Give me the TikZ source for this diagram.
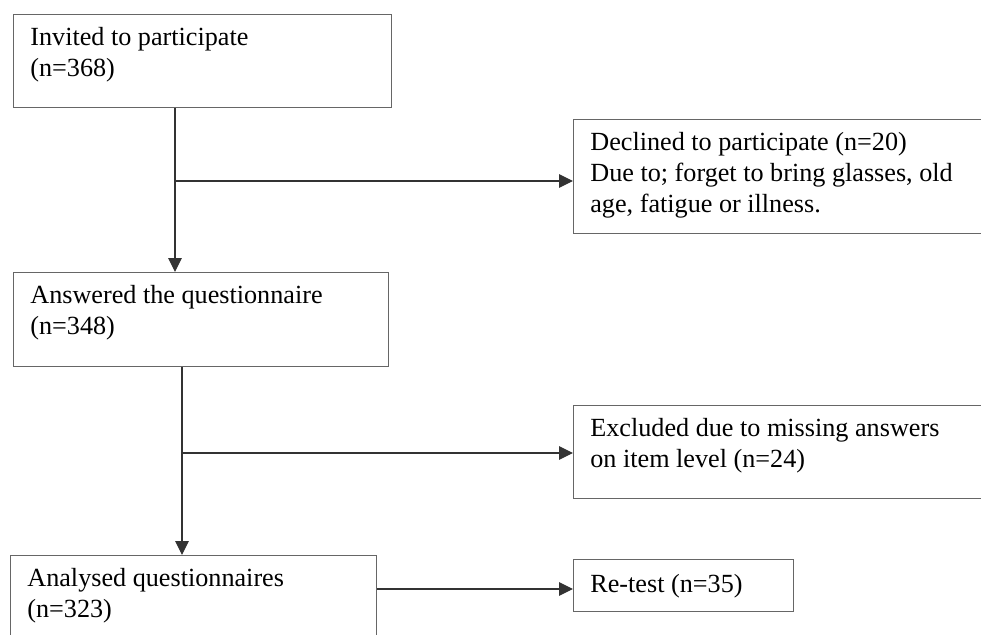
\documentclass[tikz,border=0pt]{standalone}
\usepackage{fontspec}
\setmainfont{Liberation Serif}
\usetikzlibrary{arrows.meta}
\tikzset{
  flowbox/.style={draw=black!60, line width=0.8pt, inner sep=0pt, anchor=north west},
  boxtext/.style={anchor=north west, align=left, inner xsep=0.34cm, inner ysep=0.26cm,
    font=\fontsize{14.9}{17.6}\selectfont},
  flowarrow/.style={draw=black!80, line width=0.6pt, -{Triangle[length=0.28cm,width=0.27cm]}},
  flowline/.style={draw=black!80, line width=0.6pt}
}

\begin{document}
\begin{tikzpicture}
  \useasboundingbox (0,0) rectangle (19.62,-12.7);
  \clip (0,0) rectangle (19.62,-12.7);
  \node[flowbox, minimum width=7.56cm, minimum height=1.86cm,
    label={[boxtext]north west:Invited to participate\\(n=368)}] (invited) at (0.26,-0.28) {};
  \node[flowbox, minimum width=9cm, minimum height=2.28cm,
    label={[boxtext]north west:Declined to participate (n=20)\\Due to; forget to bring glasses, old\\age, fatigue or illness.}] (declined) at (11.46,-2.38) {};
  \node[flowbox, minimum width=7.5cm, minimum height=1.88cm,
    label={[boxtext]north west:Answered the questionnaire\\(n=348)}] (answered) at (0.26,-5.44) {};
  \node[flowbox, minimum width=9cm, minimum height=1.86cm,
    label={[boxtext]north west:Excluded due to missing answers\\on item level (n=24)}] (excluded) at (11.46,-8.10) {};
  \node[flowbox, minimum width=7.32cm, minimum height=2cm,
    label={[boxtext]north west:Analysed questionnaires\\(n=323)}] (analysed) at (0.20,-11.10) {};
  \node[flowbox, minimum width=4.40cm, minimum height=1.04cm,
    label={[boxtext, inner ysep=0.3cm]north west:Re-test (n=35)}] (retest) at (11.46,-11.18) {};

  \coordinate (fork1) at (3.5,-3.62);
  \coordinate (fork2) at (3.64,-9.06);
  \coordinate (fork3) at (0,-11.78);

  \draw[flowarrow] (invited.south -| fork1) -- (answered.north -| fork1);
  \draw[flowarrow] (fork1) -- (fork1 -| declined.west);
  \draw[flowarrow] (answered.south -| fork2) -- (analysed.north -| fork2);
  \draw[flowarrow] (fork2) -- (fork2 -| excluded.west);
  \draw[flowarrow] (analysed.east |- fork3) -- (retest.west |- fork3);
\end{tikzpicture}
\end{document}
